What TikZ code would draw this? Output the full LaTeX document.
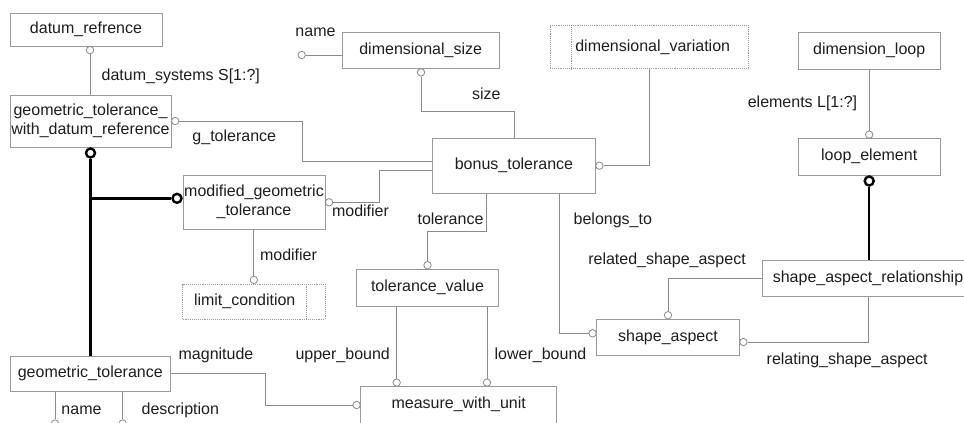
\documentclass[tikz,border=0pt]{standalone}
\usepackage{fontspec}
\setmainfont{Liberation Sans}
\usetikzlibrary{calc}
\definecolor{edgec}{HTML}{8A8A8A}
\definecolor{boxc}{HTML}{9A9A9A}
\definecolor{txtc}{HTML}{1E1E1E}
\begin{document}
\begin{tikzpicture}[x=1pt,y=-1pt,
  font=\fontsize{16}{19.3}\selectfont, text=txtc,
  box/.style={draw=boxc, line width=0.9pt, rectangle, inner sep=0pt, align=center},
  dotl/.style={draw=boxc, line width=0.8pt, dash pattern=on 0.8pt off 1.1pt},
  dbox/.style={dotl, rectangle, inner sep=0pt},
  one/.style={text height=11.5pt, text depth=3.5pt},
  conn/.style={draw=edgec, line width=0.9pt},
  thickc/.style={draw=black, line width=2.4pt},
  oc/.style={circle, draw=edgec, line width=0.8pt, fill=white, inner sep=0pt, minimum size=7.4pt},
  tc/.style={circle, draw=black, line width=2.4pt, fill=white, inner sep=0pt, minimum size=9pt},
  lbl/.style={inner sep=0pt, text height=11.5pt, text depth=3.5pt}]
\useasboundingbox (0,0) rectangle (964,423);
% entity boxes
\node[box,one,minimum width=152pt,minimum height=33pt] (dr) at (86,29.5) {datum\_refrence};
\node[box,minimum width=161pt,minimum height=52pt] (gtwdr) at (90.5,121) {geometric\_tolerance\_\\with\_datum\_reference};
\node[box,one,minimum width=156.7pt,minimum height=35.6pt] (ds) at (420.7,50.5) {dimensional\_size};
\node[dbox,one,minimum width=198.3pt,minimum height=43pt] (dv) at (649.2,47.2) {\hspace*{7pt}dimensional\_variation};
\node[box,one,minimum width=141.7pt,minimum height=36.7pt] (dl) at (869.2,50.7) {dimension\_loop};
\node[box,one,minimum width=141.7pt,minimum height=36.3pt] (le) at (869.2,156.8) {loop\_element};
\node[box,one,minimum width=162.6pt,minimum height=55pt] (bt) at (514,165.8) {bonus\_tolerance};
\node[box,minimum width=142pt,minimum height=54pt] (mgt) at (254,202) {modified\_geometric\\\_tolerance};
\node[dbox,one,minimum width=142.3pt,minimum height=35.3pt] (lc) at (253.8,301.7) {limit\_condition\hspace*{18.2pt}};
\node[box,one,minimum width=141.6pt,minimum height=36.7pt] (tv) at (427.5,287.7) {tolerance\_value};
\node[box,one,minimum width=212pt,minimum height=35.8pt] (sar) at (868,278.6) {shape\_aspect\_relationship};
\node[box,one,minimum width=142.6pt,minimum height=35.7pt] (sa) at (668,337.2) {shape\_aspect};
\node[box,text height=11.5pt,text depth=13.9pt,minimum width=196pt,minimum height=46pt] (mwu) at (458.7,409.7) {measure\_with\_unit};
\node[box,one,minimum width=160.7pt,minimum height=35.7pt] (gt) at (90.3,373.8) {geometric\_tolerance};
% inner lines of the dotted boxes
\draw[dotl] ($(dv.north west)+(21.7,0)$) -- ($(dv.south west)+(21.7,0)$);
\draw[dotl] ($(lc.north west)+(124,0)$) -- ($(lc.south west)+(124,0)$);
% circles
\node[oc] (c1) at (90,50.1) {};
\node[oc] (c2) at (301.7,55) {};
\node[oc] (c3) at (421,72.4) {};
\node[oc] (c4) at (175.2,121) {};
\node[oc] (c5) at (599.4,165.7) {};
\node[oc] (c6) at (869.2,134.6) {};
\node[tc] (c7) at (869.2,181) {};
\node[oc] (c8) at (668,315.2) {};
\node[oc] (c9) at (743.4,342) {};
\node[oc] (c10) at (592.6,333.3) {};
\node[oc] (c11) at (427.5,265.2) {};
\node[oc] (c12) at (396.7,382.6) {};
\node[oc] (c13) at (487,382.6) {};
\node[oc] (c14) at (356.6,405) {};
\node[oc] (c15) at (55,423.5) {};
\node[oc] (c16) at (122.7,423.5) {};
\node[oc] (c17) at (329.1,202.3) {};
\node[oc] (c18) at (253.8,279.9) {};
\node[tc] (c19) at (90.5,153) {};
\node[tc] (c20) at (177,198.3) {};
% bend points
\coordinate (k3) at (514,111.7);
\coordinate (k4) at (302,161);
\coordinate (k10) at (559.3,0);
\coordinate (k11) at (486.7,231.7);
\coordinate (k14) at (265.7,373.3);
\coordinate (k17) at (379,170);
% connectors
\draw[conn] (c1) -- (c1 |- gtwdr.north);
\draw[conn] (c2) -- (c2 -| ds.west);
\draw[conn] (c3) |- (k3) -- (bt.north);
\draw[conn] (c4) -| (k4) -- (k4 -| bt.west);
\draw[conn] (c5) -| (dv.south);
\draw[conn] (dl) -- (c6);
\draw[thickc] (c7) -- (c7 |- sar.north);
\draw[conn] (sar.west) -| (c8);
\draw[conn] (c9) -| (sar.south);
\draw[conn] (k10 |- bt.south) |- (c10);
\draw[conn] (k11 |- bt.south) -- (k11) -| (c11);
\draw[conn] (c12 |- tv.south) -- (c12);
\draw[conn] (c13 |- tv.south) -- (c13);
\draw[conn] (gt.east |- k14) -- (k14) |- (c14);
\draw[conn] (c15 |- gt.south) -- (c15);
\draw[conn] (c16 |- gt.south) -- (c16);
\draw[conn] (c17) -| (k17) -- (k17 -| bt.west);
\draw[conn] (c18 |- mgt.south) -- (c18);
\draw[thickc] (c19) -- (c19 |- gt.north);
\draw[thickc] (c19 |- c20) -- (c20);
% labels
\node[lbl] (l1) at (180.8,76) {datum\_systems S[1:?]};
\node[lbl] (l2) at (234.3,137) {g\_tolerance};
\node[lbl] (l3) at (315.5,32.3) {name};
\node[lbl] (l4) at (486.3,95) {size};
\node[lbl] (l5) at (802.5,103.3) {elements L[1:?]};
\node[lbl] (l6) at (360.5,212.7) {modifier};
\node[lbl] (l7) at (450.5,220) {tolerance};
\node[lbl] (l8) at (612.8,220) {belongs\_to};
\node[lbl] (l9) at (667,260) {related\_shape\_aspect};
\node[lbl] (l10) at (288.5,256) {modifier};
\node[lbl] (l11) at (342.7,355) {upper\_bound};
\node[lbl] (l12) at (540.5,355) {lower\_bound};
\node[lbl] (l13) at (847.2,360) {relating\_shape\_aspect};
\node[lbl] (l14) at (216,355) {magnitude};
\node[lbl] (l15) at (81.5,410) {name};
\node[lbl] (l16) at (180.3,410) {description};
\end{tikzpicture}
\end{document}
